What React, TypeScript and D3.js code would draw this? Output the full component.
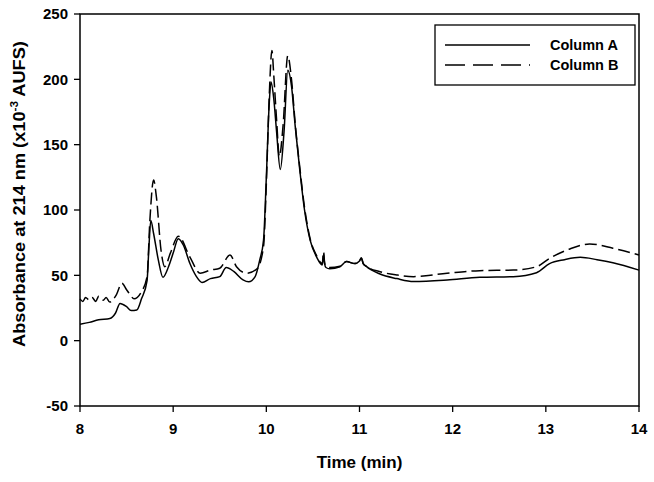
import React from 'react';
import * as d3 from 'd3';

// Column A (solid) — time in min, absorbance in 10^-3 AUFS
const timeA = [8.0, 8.1, 8.2, 8.32, 8.38, 8.43, 8.5, 8.55, 8.61, 8.66, 8.72, 8.74, 8.76, 8.79, 8.84, 8.89, 8.95, 9.0, 9.055, 9.11, 9.18, 9.25, 9.31, 9.4, 9.5, 9.57, 9.65, 9.75, 9.81, 9.88, 9.93, 9.97, 10.0, 10.03, 10.05, 10.08, 10.11, 10.15, 10.19, 10.23, 10.27, 10.31, 10.36, 10.41, 10.47, 10.54, 10.6, 10.615, 10.625, 10.64, 10.68, 10.79, 10.86, 10.95, 11.0, 11.02, 11.04, 11.07, 11.22, 11.4, 11.58, 11.94, 12.29, 12.65, 12.9, 13.04, 13.2, 13.37, 13.55, 13.72, 14.0];
const absA = [12.5, 14, 16, 17, 21, 28.5, 26, 23, 23.5, 32, 46, 72, 92, 82, 62, 48.5, 56.6, 67, 78, 73, 59, 49, 44.5, 47.5, 49, 56, 53, 46.5, 45, 49, 62, 77, 125, 180, 198, 185, 160, 131, 160, 207, 195, 164, 130, 100, 77, 64, 58, 66, 59, 56, 55, 56.6, 60.5, 59, 61, 63.5, 59, 57, 51, 47.5, 45.2, 46.4, 48.5, 49, 52, 59, 62, 63.8, 62, 59.7, 54];

// Column B (dashed)
const timeB = [8.0, 8.03, 8.06, 8.1, 8.13, 8.17, 8.2, 8.25, 8.28, 8.32, 8.35, 8.39, 8.45, 8.5, 8.54, 8.58, 8.66, 8.72, 8.75, 8.79, 8.82, 8.87, 8.91, 8.97, 9.055, 9.18, 9.29, 9.4, 9.5, 9.61, 9.68, 9.79, 9.9, 9.97, 10.0, 10.03, 10.06, 10.08, 10.11, 10.14, 10.18, 10.23, 10.27, 10.31, 10.36, 10.41, 10.47, 10.54, 10.6, 10.615, 10.625, 10.64, 10.68, 10.79, 10.86, 10.95, 11.0, 11.02, 11.04, 11.07, 11.22, 11.4, 11.58, 11.94, 12.29, 12.65, 12.9, 13.04, 13.25, 13.47, 13.72, 14.0];
const absB = [32, 30, 33, 31, 33, 30, 34, 31, 33, 29.5, 31, 35, 44, 39, 35, 32, 37.5, 49, 92, 123, 110, 69, 56.6, 67, 80, 64, 51.6, 54, 55.4, 65.6, 56.6, 51.6, 55, 72, 120, 185, 222, 203, 169, 141, 165, 218, 200, 166, 132, 102, 78, 65, 59, 68, 60, 57, 56, 57, 60.5, 59, 61, 63, 59, 57, 52.8, 50.3, 49, 51.6, 53.6, 54, 56.6, 63, 70, 74, 70.7, 65.6];

const xTicks = [8, 9, 10, 11, 12, 13, 14];
const yTicks = [-50, 0, 50, 100, 150, 200, 250];

const W = 654;
const H = 482;
const left = 80, right = 639, top = 14, bottom = 406;
const font = '"Liberation Sans", Arial, sans-serif';

export default function App() {
  const x = d3.scaleLinear().domain([8, 14]).range([left, right]);
  const y = d3.scaleLinear().domain([-50, 250]).range([bottom, top]);

  const line = d3.line<[number, number]>()
    .x(d => x(d[0]))
    .y(d => y(d[1]))
    .curve(d3.curveMonotoneX);

  const pathA = line(timeA.map((t, i) => [t, absA[i]]));
  const pathB = line(timeB.map((t, i) => [t, absB[i]]));

  return (
    <svg width={W} height={H} style={{ position: 'absolute', left: 0, top: 0, background: '#fff' }}
      fontFamily={font} fontWeight="bold">
      <path d={pathA ?? ''} fill="none" stroke="#000" strokeWidth={1.5} />
      <path d={pathB ?? ''} fill="none" stroke="#000" strokeWidth={1.5} strokeDasharray="12,5" />

      {/* frame */}
      <rect x={left} y={top} width={right - left} height={bottom - top} fill="none" stroke="#000" strokeWidth={1.5} />

      {/* y axis ticks */}
      {yTicks.map(v => (
        <g key={'y' + v}>
          <line x1={left - 6} x2={left} y1={y(v)} y2={y(v)} stroke="#000" strokeWidth={1.3} />
          <text x={left - 12} y={y(v)} dy="0.35em" textAnchor="end" fontSize={15}>{v}</text>
        </g>
      ))}

      {/* x axis ticks */}
      {xTicks.map(v => (
        <g key={'x' + v}>
          <line x1={x(v)} x2={x(v)} y1={bottom} y2={bottom + 6} stroke="#000" strokeWidth={1.3} />
          <text x={x(v)} y={434} textAnchor="middle" fontSize={15}>{v}</text>
        </g>
      ))}

      <text x={(left + right) / 2} y={468} textAnchor="middle" fontSize={17}>Time (min)</text>
      <text transform={`translate(25, 194) rotate(-90) scale(1.07, 1)`} textAnchor="middle" fontSize={17}>
        Absorbance at 214 nm (x10<tspan dy={-7} fontSize={11}>-3</tspan><tspan dy={7}> AUFS)</tspan>
      </text>

      {/* legend */}
      <rect x={435} y={25} width={200} height={60} fill="#fff" stroke="#000" strokeWidth={1.3} />
      <line x1={445} x2={530} y1={45} y2={45} stroke="#000" strokeWidth={1.4} />
      <line x1={445} x2={530} y1={65} y2={65} stroke="#000" strokeWidth={1.4} strokeDasharray="20,8" />
      <text x={550} y={50} fontSize={14.5}>Column A</text>
      <text x={550} y={70} fontSize={14.5}>Column B</text>
    </svg>
  );
}
